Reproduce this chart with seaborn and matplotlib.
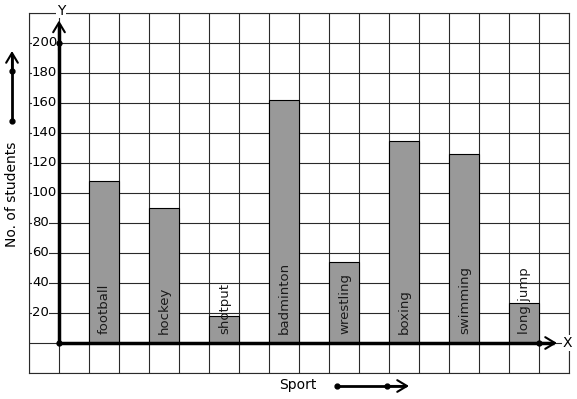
import numpy as np
import pandas as pd
import matplotlib
matplotlib.use("Agg")
import matplotlib.pyplot as plt
import seaborn as sns

sns.set_style("white")
plt.rcParams['font.family'] = ['DejaVu Sans']
plt.rcParams['text.color'] = 'black'

# data
sports = ['football', 'hockey', 'shotput', 'badminton', 'wrestling', 'boxing', 'swimming', 'long jump']
students = [108, 90, 18, 162, 54, 135, 126, 27]
y_labels = [20, 40, 60, 80, 100, 120, 140, 160, 180, 200]

df = pd.DataFrame({'Sport': sports, 'Students': students})

fig = plt.figure(figsize=(5.77, 3.99), dpi=100)
ax = fig.add_axes([29 / 577, 26 / 399, 540 / 577, 360 / 399])

sns.barplot(data=df, x='Sport', y='Students', color='#999999', saturation=1,
            width=0.5, edgecolor='black', linewidth=0.8, ax=ax, zorder=3)

# graph paper grid: one cell = half a category wide, 20 students high
ax.set_xlim(-1.25, 7.75)
ax.set_ylim(-20, 220)
ax.set_xticks(np.arange(-1.25, 7.76, 0.5))
ax.set_yticks(np.arange(-20, 221, 20))
ax.set_xticklabels([])
ax.set_yticklabels([])
ax.tick_params(length=0)
ax.grid(True, color='#2a2a2a', linewidth=0.8)
ax.set_axisbelow(True)
for s in ax.spines.values():
    s.set_color('#2a2a2a')
    s.set_linewidth(0.8)
ax.set_xlabel('')
ax.set_ylabel('')

# y value labels
for v in y_labels:
    ax.text(-1.2, v, str(v), ha='left', va='center', fontsize=9.5, zorder=6,
            bbox=dict(facecolor='white', edgecolor='none', pad=0.3))

# sport names inside bars
for i, name in enumerate(sports):
    ax.text(i + 0.01, 6, name, rotation=90, ha='center', va='bottom', fontsize=9.5,
            color='#1a1a1a', zorder=6)

# x and y axes with open arrow heads
head = dict(arrowstyle='->, head_length=0.5, head_width=0.3', lw=1.5, color='black',
            mutation_scale=14, shrinkA=0, shrinkB=0)
ax.plot([-0.75, 7.5], [0, 0], color='black', lw=2.5, zorder=7, solid_capstyle='butt')
ax.plot([-0.75, -0.75], [0, 213], color='black', lw=2.5, zorder=7, solid_capstyle='butt')
ax.annotate('', xy=(7.55, 0), xytext=(7.3, 0), arrowprops=head, zorder=7)
ax.annotate('', xy=(-0.75, 215), xytext=(-0.75, 195), arrowprops=head, zorder=7)
ax.plot([-0.75, -0.75, 7.25], [0, 200, 0], 'o', color='black', ms=3.5, zorder=8, clip_on=False)
ax.text(7.73, 0, 'X', ha='center', va='center', fontsize=10, zorder=6,
        bbox=dict(facecolor='white', edgecolor='none', pad=0.5))
ax.text(-0.72, 221.5, 'Y', ha='center', va='center', fontsize=10, zorder=6, clip_on=False,
        bbox=dict(facecolor='white', edgecolor='none', pad=0.5))

# scale arrows outside the grid
fig.text(12 / 577, 1 - 194 / 399, 'No. of students', rotation=90, ha='center', va='center', fontsize=10)
fig.lines.append(matplotlib.lines.Line2D([12 / 577, 12 / 577], [1 - 121 / 399, 1 - 55 / 399],
                                         transform=fig.transFigure, color='black', lw=2))
fig.patches.append(matplotlib.patches.FancyArrowPatch(
    (12 / 577, 1 - 70 / 399), (12 / 577, 1 - 51 / 399), transform=fig.transFigure, **head))
fig.lines.append(matplotlib.lines.Line2D([12 / 577, 12 / 577], [1 - 121 / 399, 1 - 71 / 399],
                                         transform=fig.transFigure, marker='o', ls='none',
                                         color='black', ms=3.5))
fig.text(298 / 577, 1 - 385 / 399, 'Sport', ha='center', va='center', fontsize=10)
fig.lines.append(matplotlib.lines.Line2D([337 / 577, 405 / 577], [1 - 386 / 399, 1 - 386 / 399],
                                         transform=fig.transFigure, color='black', lw=2))
fig.patches.append(matplotlib.patches.FancyArrowPatch(
    (390 / 577, 1 - 386 / 399), (409 / 577, 1 - 386 / 399), transform=fig.transFigure, **head))
fig.lines.append(matplotlib.lines.Line2D([337 / 577, 387 / 577], [1 - 386 / 399, 1 - 386 / 399],
                                         transform=fig.transFigure, marker='o', ls='none',
                                         color='black', ms=3.5))

fig.savefig('out.png', dpi=100)
